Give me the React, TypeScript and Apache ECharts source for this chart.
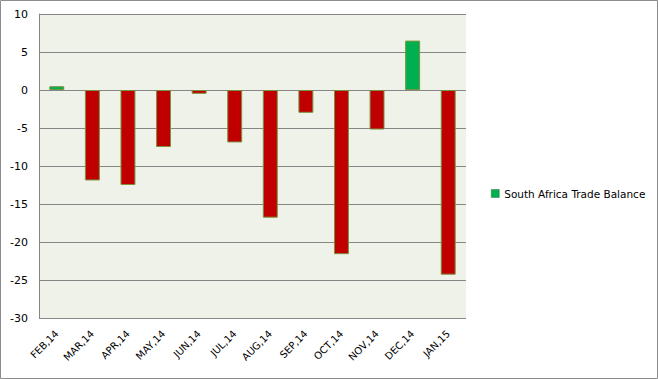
import React, { useEffect, useRef } from "react";
import * as echarts from "echarts";

const categories = ["FEB,14", "MAR,14", "APR,14", "MAY,14", "JUN,14", "JUL,14", "AUG,14", "SEP,14", "OCT,14", "NOV,14", "DEC,14", "JAN,15"];
const tradeBalance = [0.5, -11.9, -12.5, -7.5, -0.5, -6.9, -16.8, -3.0, -21.6, -5.2, 6.5, -24.3];
const seriesName = "South Africa Trade Balance";
const yTicks = { min: -30, max: 10, interval: 5 };

export default function App() {
  const ref = useRef<HTMLDivElement>(null);
  useEffect(() => {
    document.body.style.margin = "0";
    const chart = echarts.init(ref.current!, null, { renderer: "svg" });
    chart.setOption({
      animation: false,
      backgroundColor: "#ffffff",
      graphic: [
        {
          type: "rect",
          shape: { x: 0.5, y: 0.5, width: 657, height: 378 },
          style: { fill: "none", stroke: "#8c8c8c", lineWidth: 1 },
          silent: true,
        },
      ],
      grid: {
        left: 39,
        right: 192,
        top: 14,
        bottom: 61,
        show: true,
        backgroundColor: "#EFF2E9",
        borderWidth: 0,
      },
      legend: {
        data: [seriesName],
        left: 486,
        top: 183,
        orient: "vertical",
        itemWidth: 8,
        itemHeight: 8,
        icon: "rect",
        itemStyle: { color: "#00B050", borderColor: "#3f6f3f", borderWidth: 0.5 },
        textStyle: { fontFamily: "DejaVu Sans", fontSize: 10.5, color: "#000" },
      },
      xAxis: {
        type: "category",
        data: categories,
        axisLine: { show: false, onZero: false },
        axisTick: { show: false },
        axisLabel: {
          rotate: 45,
          interval: 0,
          fontFamily: "DejaVu Sans",
          fontSize: 10,
          color: "#000",
          margin: 14,
        },
      },
      yAxis: {
        type: "value",
        min: yTicks.min,
        max: yTicks.max,
        interval: yTicks.interval,
        axisLine: { show: true, lineStyle: { color: "#868686", width: 1 } },
        axisTick: { show: false },
        splitLine: { show: true, lineStyle: { color: "#868686", width: 1 } },
        axisLabel: { fontFamily: "DejaVu Sans", fontSize: 11, color: "#000", margin: 11 },
      },
      series: [
        {
          name: seriesName,
          type: "bar",
          barWidth: "42%",
          itemStyle: { color: "#00B050", borderColor: "#77933C", borderWidth: 1 },
          data: tradeBalance.map((v) => ({
            value: v,
            itemStyle: { color: v >= 0 ? "#00B050" : "#C00000", borderColor: "#77933C", borderWidth: 1 },
          })),
        },
      ],
    });
    return () => chart.dispose();
  }, []);
  return <div ref={ref} style={{ position: "absolute", left: 0, top: 0, width: 658, height: 379 }} />;
}
